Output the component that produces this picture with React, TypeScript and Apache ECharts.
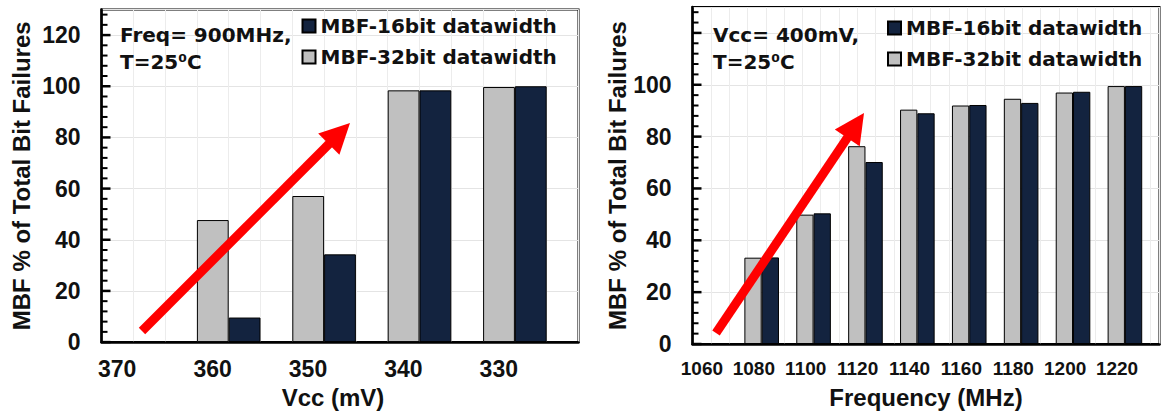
import React, { useEffect, useRef } from "react";
import * as echarts from "echarts";

const vccCategories = ["370", "360", "350", "340", "330"];
const vcc32bit = [null, 47.7, 57.1, 98.4, 99.7];
const vcc16bit = [null, 9.6, 34.3, 98.4, 100];

const freqCategories = ["1060", "1080", "1100", "1120", "1140", "1160", "1180", "1200", "1220"];
const freq32bit = [null, 33.3, 49.9, 76.3, 90.4, 92.0, 94.6, 97.0, 99.5];
const freq16bit = [null, 33.4, 50.4, 70.2, 89.0, 92.2, 93.0, 97.3, 99.5];

// y-axis tick marks (major every 20, minor every 4)
const yTickValues = [
  0, 4, 8, 12, 16, 20, 24, 28, 32, 36, 40, 44, 48, 52, 56, 60, 64, 68, 72, 76, 80,
  84, 88, 92, 96, 100, 104, 108, 112, 116, 120, 124, 128,
];

const NAME16 = "MBF-16bit datawidth";
const NAME32 = "MBF-32bit datawidth";
const GREY = "#c0c0c0";
const NAVY = "#13233f";
const TICK_FONT = "Liberation Sans";
const ANNO_FONT = "DejaVu Sans";

function arrow(x0: number, y0: number, x1: number, y1: number) {
  const dx = x1 - x0;
  const dy = y1 - y0;
  const L = Math.hypot(dx, dy);
  const ux = dx / L;
  const uy = dy / L;
  const hl = 30;
  const hw = 15;
  const bx = x1 - ux * hl;
  const by = y1 - uy * hl;
  const px = -uy;
  const py = ux;
  return [
    {
      type: "line",
      z: 100,
      shape: { x1: x0, y1: y0, x2: bx + ux * 2, y2: by + uy * 2 },
      style: { stroke: "#ff0000", lineWidth: 9 },
    },
    {
      type: "polygon",
      z: 100,
      shape: {
        points: [
          [x1, y1],
          [bx + px * hw, by + py * hw],
          [bx - px * hw, by - py * hw],
        ],
      },
      style: { fill: "#ff0000" },
    },
  ];
}

function yAxisCfg(gridIndex: number, maxLabel: number, nameGap: number) {
  return {
    type: "value",
    gridIndex,
    position: "left",
    min: 0,
    max: 130,
    interval: 20,
    name: "MBF % of Total Bit Failures",
    nameLocation: "middle",
    nameGap,
    nameTextStyle: { fontFamily: TICK_FONT, fontWeight: "bold", fontSize: 24, color: "#111" },
    axisLine: { show: true, lineStyle: { color: "#000", width: 2.5 } },
    axisTick: { show: false },
    minorTick: { show: false },
    axisLabel: {
      margin: 21,
      fontFamily: TICK_FONT,
      fontWeight: "bold",
      fontSize: 23,
      color: "#111",
      formatter: (v: number) => (v <= maxLabel ? String(v) : ""),
    },
    splitLine: { show: true, lineStyle: { color: "#e4e4e4", width: 1 } },
  };
}

function catAxisCfg(gridIndex: number, data: string[], name: string, fontSize: number, shift: number, nameGap: number, namePad: number) {
  return {
    type: "category",
    gridIndex,
    position: "bottom",
    data,
    name,
    nameLocation: "middle",
    nameGap,
    nameTextStyle: {
      fontFamily: TICK_FONT,
      fontWeight: "bold",
      fontSize: 24,
      color: "#111",
      padding: [0, namePad, 0, 0],
    },
    axisLine: { show: true, onZero: false, lineStyle: { color: "#000", width: 2.5 } },
    axisTick: { show: false },
    axisLabel: {
      interval: 0,
      margin: 15,
      fontFamily: TICK_FONT,
      fontWeight: "bold",
      fontSize,
      color: "#111",
      padding: [0, shift * 2, 0, 0],
    },
    splitLine: { show: false },
  };
}

function gridLinesAxis(gridIndex: number, max: number) {
  return {
    type: "value",
    gridIndex,
    position: "top",
    min: 0,
    max,
    interval: 1,
    axisLine: { show: false },
    axisTick: { show: false },
    axisLabel: { show: false },
    splitLine: { show: true, lineStyle: { color: "#ececec", width: 1 } },
  };
}

function barSeries(name: string, data: (number | null)[], color: string, xAxisIndex: number, yAxisIndex: number) {
  return {
    type: "bar",
    name,
    data,
    xAxisIndex,
    yAxisIndex,
    barGap: "0%",
    barCategoryGap: "0%",
    itemStyle: { color, borderColor: "#000", borderWidth: 1 },
  };
}

function spacer(xAxisIndex: number, yAxisIndex: number, n: number) {
  return {
    type: "bar",
    name: "spacer",
    data: new Array(n).fill(null),
    xAxisIndex,
    yAxisIndex,
    barGap: "0%",
    barCategoryGap: "0%",
    silent: true,
    itemStyle: { color: "transparent" },
  };
}

function tickSeries(xAxisIndex: number, yAxisIndex: number) {
  return {
    type: "custom",
    name: "yticks",
    xAxisIndex,
    yAxisIndex,
    silent: true,
    clip: false,
    z: 5,
    encode: { x: 0, y: 1 },
    data: yTickValues.map((v) => [0, v]),
    renderItem: (params: any, api: any) => {
      const v = api.value(1);
      const y = api.coord([0, v])[1];
      const x = params.coordSys.x;
      const major = v % 20 === 0;
      return {
        type: "line",
        shape: { x1: x, y1: y, x2: x + (major ? 9 : 6), y2: y },
        style: { stroke: "#000", lineWidth: major ? 2.5 : 2 },
      };
    },
  };
}

function legendCfg(left: number, top: number) {
  return {
    orient: "vertical",
    left,
    top,
    padding: 0,
    itemWidth: 13,
    itemHeight: 13,
    itemGap: 11,
    icon: "rect",
    data: [NAME16, NAME32],
    selectedMode: false,
    textStyle: {
      fontFamily: ANNO_FONT,
      fontWeight: "bold",
      fontSize: 20,
      lineHeight: 20,
      color: "#111",
    },
  };
}

function annotation(x: number, y: number, line1: string) {
  return {
    type: "text",
    x,
    y,
    z: 50,
    style: {
      text: line1 + "\nT=25\u2070C",
      font: `bold 20px "${ANNO_FONT}"`,
      fill: "#111",
      lineHeight: 27,
      verticalAlign: "top",
      align: "left",
    },
  };
}

export default function App() {
  const ref = useRef<HTMLDivElement>(null);
  useEffect(() => {
    if (!ref.current) return;
    const chart = echarts.init(ref.current, null, { renderer: "svg" });
    const option = {
      animation: false,
      grid: [
        { left: 101.5, top: 9.5, width: 477, height: 334.5, show: true, borderColor: "#000", borderWidth: 2, backgroundColor: "transparent" },
        { left: 692.5, top: 7, width: 467, height: 337, show: true, borderColor: "#000", borderWidth: 2, backgroundColor: "transparent" },
      ],
      xAxis: [
        catAxisCfg(0, vccCategories, "Vcc (mV)", 23, 32, 39, 14),
        catAxisCfg(1, freqCategories, "Frequency (MHz)", 19, 16.5, 41, 0),
        gridLinesAxis(0, 15),
        gridLinesAxis(1, 25.5),
      ],
      yAxis: [yAxisCfg(0, 120, 68), yAxisCfg(1, 100, 60)],
      legend: [legendCfg(301.5, 16), legendCfg(887, 18)],
      series: [
        barSeries(NAME32, vcc32bit, GREY, 0, 0),
        barSeries(NAME16, vcc16bit, NAVY, 0, 0),
        spacer(0, 0, vccCategories.length),
        barSeries(NAME32, freq32bit, GREY, 1, 1),
        barSeries(NAME16, freq16bit, NAVY, 1, 1),
        spacer(1, 1, freqCategories.length),
        tickSeries(0, 0),
        tickSeries(1, 1),
      ],
      graphic: [
        annotation(120, 21.5, "Freq= 900MHz,"),
        annotation(713, 21.5, "Vcc= 400mV,"),
        ...arrow(142, 331, 350, 123),
        ...arrow(716, 333, 864, 113),
      ],
    };
    chart.setOption(option as any);
    return () => chart.dispose();
  }, []);
  return (
    <div
      ref={ref}
      style={{ position: "absolute", left: 0, top: 0, width: 1161, height: 414, background: "#fff" }}
    />
  );
}
